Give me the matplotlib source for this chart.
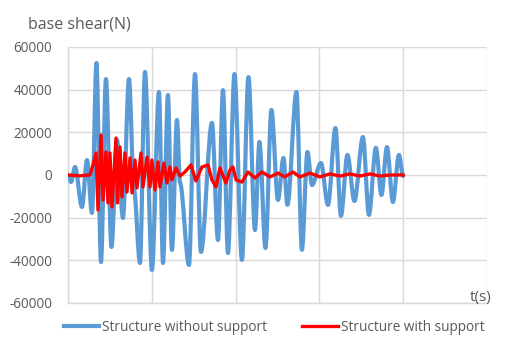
import numpy as np
import matplotlib.pyplot as plt
from matplotlib.path import Path
from matplotlib.patches import PathPatch
from matplotlib.lines import Line2D

plt.rcParams['font.family'] = ['Open Sans', 'DejaVu Sans']

# Base shear time history, peaks and troughs (time in s, shear in N)
t_free = [0.0, 0.36, 0.84, 1.67, 2.27, 2.86, 3.40, 3.94, 4.53, 5.19,
          5.85, 6.56, 7.28, 7.88, 8.59, 9.19, 10.02, 10.86, 11.34, 11.93,
          12.41, 13.01, 13.37, 14.44, 15.16, 15.87, 17.18, 17.90, 18.50, 19.09,
          19.87, 20.76, 21.54, 22.32, 22.85, 23.57, 24.28, 25.06, 25.72, 26.19,
          27.27, 27.92, 28.58, 29.12, 30.19, 31.03, 31.92, 32.58, 33.35, 34.19,
          35.20, 35.92, 36.75, 37.41, 38.07, 38.78, 39.50, 40.0]
v_free = [0, -3300, 3750, -15000, 7000, -17800, 52500, -40800, 45000, -33750,
          16400, -20150, 45000, -7000, -41250, 48300, -44500, 38900, -41250, 37500,
          -35150, 25800, -3750, -42200, 47300, -36100, 24400, -30500, 39800, -36600,
          47300, -39800, 45900, -25800, 15500, -34200, 30500, -11700, 8000, -14000,
          38900, -35100, 10800, -4700, 5600, -14000, 22000, -19200, 9400, -12200,
          17800, -18700, 12700, -9400, 13100, -12700, 9400, -500]

t_sup = [0.0, 1.43, 2.63, 2.98, 3.34, 3.58, 3.94, 4.18, 4.53, 4.77,
         5.01, 5.25, 5.73, 5.91, 6.21, 6.44, 6.80, 7.04, 7.40, 7.64,
         8.00, 8.23, 8.71, 8.95, 9.43, 9.79, 10.02, 10.38, 10.74, 10.98,
         11.46, 11.81, 12.17, 12.41, 12.89, 13.37, 13.96, 14.68, 15.27, 15.99,
         16.71, 17.18, 17.66, 18.14, 18.85, 19.33, 19.69, 20.05, 20.76, 21.48,
         22.32, 23.15, 24.11, 25.06, 25.89, 26.85, 27.68, 28.88, 30.07, 31.26,
         32.46, 33.65, 34.84, 36.04, 37.23, 38.42, 40.0]
v_sup = [0, -400, 0, 4700, 10300, -16400, 18750, -11700, 10800, -13100,
         10300, -15000, 17300, -13100, 13100, -10300, 10300, -8000, 8000, -8400,
         7000, -6100, 10300, -5600, 8400, -5600, 7000, -7000, 6100, -5600,
         5600, -3750, 3750, -2300, 3300, -500, 1400, 4700, -2800, 3750,
         4700, -2300, -5600, 3300, -3750, 2300, 3750, -2300, -3300, 1400,
         -1400, 1400, -900, 900, -900, 1400, -900, 900, -900, 500,
         -500, 500, -500, 500, -500, 0, 0]

y_ticks = [-60000, -40000, -20000, 0, 20000, 40000, 60000]
x_grid = [0, 10, 20, 30, 40, 50]

grey = '#D9D9D9'
txt = '#595959'
blue = '#5B9BD5'
red = '#FF0000'


def smooth_path(t, v):
    # cubic Bezier through each extremum with a flat tangent there
    verts = [(t[0], v[0])]
    codes = [Path.MOVETO]
    for i in range(len(t) - 1):
        d = (t[i + 1] - t[i]) / 3.0
        verts += [(t[i] + d, v[i]), (t[i + 1] - d, v[i + 1]), (t[i + 1], v[i + 1])]
        codes += [Path.CURVE4] * 3
    return Path(verts, codes)


fig = plt.figure(figsize=(5.23, 3.38), dpi=100)
ax = fig.add_axes([0.130, 0.1036, 0.801, 0.7574])

ax.add_patch(PathPatch(smooth_path(t_free, v_free), facecolor='none',
                       edgecolor=blue, lw=3.0, joinstyle='round',
                       capstyle='round', zorder=3))
ax.plot(t_sup, v_sup, color=red, lw=2.4, solid_joinstyle='round', zorder=4)

ax.set_xlim(0, 50)
ax.set_ylim(-60000, 60000)
ax.set_xticks(x_grid)
ax.set_xticklabels([])
ax.set_yticks(y_ticks)
ax.set_yticklabels([str(v) for v in y_ticks])
ax.tick_params(length=0, labelsize=9.8, colors=txt, pad=11.5)
ax.grid(True, color=grey, lw=1)
ax.set_axisbelow(True)
for s in ['top', 'right']:
    ax.spines[s].set_visible(False)
for s in ['left', 'bottom']:
    ax.spines[s].set_color(grey)
    ax.spines[s].set_linewidth(1)

fig.text(0.053, 0.928, 'base shear(N)', fontsize=11.5, color=txt, va='center')
fig.text(0.898, 0.12, 't(s)', fontsize=11, color=txt, va='center')

handles = [Line2D([], [], color=blue, lw=3.0),
           Line2D([], [], color=red, lw=2.4)]
labels = ['Structure without support', 'Structure with support']
fig.legend(handles, labels, loc='center', bbox_to_anchor=(0.524, 0.032), ncol=2,
           frameon=False, fontsize=9.8, handlelength=2.6, columnspacing=2.6,
           handletextpad=0.2, labelcolor=txt)

fig.savefig('out.png', dpi=100)
